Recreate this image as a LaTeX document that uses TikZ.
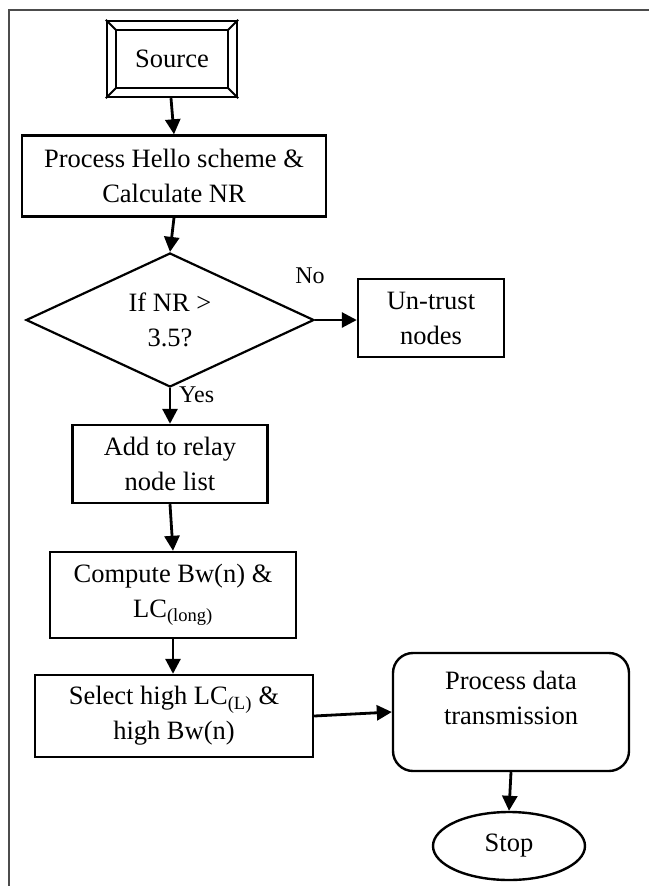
\documentclass[tikz,border=0pt]{standalone}
\usepackage{fontspec}
\setmainfont{Liberation Serif}
\usetikzlibrary{arrows.meta,shapes.geometric,calc}
\begin{document}
\begin{tikzpicture}[x=1pt,y=-1pt,
  every node/.style={font=\fontsize{26.5}{35}\selectfont, align=center, inner sep=0pt},
  box/.style={draw, line width=2.4pt, rectangle},
  rbox/.style={draw, line width=2.4pt, rectangle, rounded corners=20pt},
  dia/.style={draw, line width=2.2pt, diamond, aspect=2.15},
  ell/.style={draw, line width=2.4pt, ellipse},
  arr/.style={line width=2.8pt, -{Triangle[length=15pt,width=15pt]}},
  lbl/.style={font=\fontsize{24}{30}\selectfont},
  frame/.style={draw=gray!60!black, line width=1.8pt}]
\useasboundingbox (0,0) rectangle (649,886);
\draw[frame] (9,886) -- (9,10) -- (649,10);

% Source (beveled frame)
\node[box, minimum width=130pt, minimum height=76pt] (src) at (172,59) {Source};
\draw[line width=2.4pt] ($(src.north west)+(10,10)$) rectangle ($(src.south east)+(-10,-10)$);
\draw[line width=1.8pt] (src.north west) -- ++(10,10)
      (src.north east) -- ++(-10,10)
      (src.south west) -- ++(10,-10)
      (src.south east) -- ++(-10,-10);

\node[box, minimum width=304pt, minimum height=81pt] (ph) at (174,176) {Process Hello scheme \&\\Calculate NR};
\node[dia, minimum width=288pt, minimum height=134pt] (nr) at (170,320) {If NR >\\3.5?};
\node[box, minimum width=146pt, minimum height=78pt] (ut) at (431,318) {Un-trust\\nodes};
\node[box, minimum width=195pt, minimum height=78pt] (add) at (170,464) {Add to relay\\node list};
\node[box, minimum width=246pt, minimum height=86pt] (cmp) at (173,595) {Compute Bw(n) \&\\LC\textsubscript{(long)}};
\node[box, minimum width=278pt, minimum height=82pt] (sel) at (174,716) {Select high LC\textsubscript{(L)} \&\\high Bw(n)};
\node[rbox, minimum width=236pt, minimum height=118pt] (pd) at (511,712) {};
\node at (511,698) {Process data\\transmission};
\node[ell, minimum width=152pt, minimum height=68pt] (stop) at (509,846) {Stop};

\node[lbl] (no) at (310,276) {No};
\node[lbl, anchor=west] (yes) at (179,395) {Yes};

\draw[arr] ([xshift=-1pt]src.south) -- ([xshift=0pt]ph.north);
\draw[arr] ([xshift=0pt]ph.south) -- (nr.north);
\draw[arr] (nr.east) -- (ut.west |- nr.east);
\draw[arr] (nr.south) -- (add.north);
\draw[arr] ([xshift=0pt]add.south) -- (cmp.north);
\draw[arr] (cmp.south) -- (sel.north -| cmp.south);
\draw[arr] (sel.east) -- (pd.west);
\draw[arr] (pd.south) -- (stop.north);
\end{tikzpicture}
\end{document}
